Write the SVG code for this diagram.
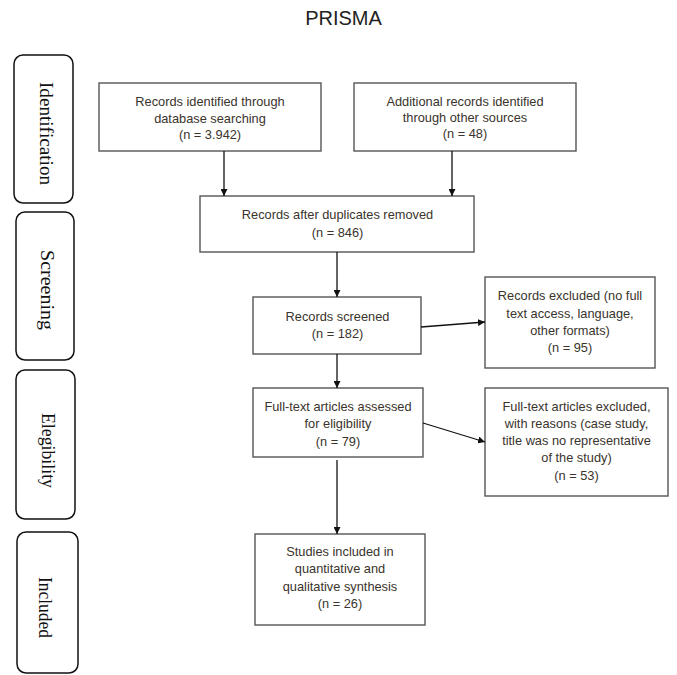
<svg xmlns="http://www.w3.org/2000/svg" width="677" height="675" viewBox="0 0 677 675">
<defs>
<style>
.title{font-family:"Liberation Sans",Arial,sans-serif;font-size:20px;fill:#222;text-anchor:middle}
.side{fill:#fff;stroke:#111;stroke-width:1.5}
.stxt{font-family:"Liberation Serif","Times New Roman",serif;font-size:18.5px;fill:#111;text-anchor:middle}
.box{fill:#fff;stroke:#555;stroke-width:1.4}
.txt{font-family:"Liberation Sans",Arial,sans-serif;font-size:12.8px;fill:#3a342c;text-anchor:middle}
.conn{stroke:#111;stroke-width:1.3;fill:none;marker-end:url(#ah)}
</style>
<marker id="ah" viewBox="0 0 10 10" refX="10" refY="5" markerWidth="7" markerHeight="7" markerUnits="userSpaceOnUse" orient="auto">
<path d="M0,0 L10,5 L0,10 z" fill="#111"/>
</marker>
</defs>
<rect width="677" height="675" fill="#fff"/>
<text class="title" x="343.5" y="25">PRISMA</text>

<g id="side-identification">
<rect class="side" x="14" y="55" width="59" height="148" rx="9"/>
<text class="stxt" transform="translate(40,133.5) rotate(90)" textLength="103" lengthAdjust="spacingAndGlyphs">Identification</text>
</g>
<g id="side-screening">
<rect class="side" x="16" y="212" width="58" height="148" rx="9"/>
<text class="stxt" transform="translate(40.5,290) rotate(90)" textLength="80" lengthAdjust="spacingAndGlyphs">Screening</text>
</g>
<g id="side-eligibility">
<rect class="side" x="16" y="370" width="59" height="149" rx="9"/>
<text class="stxt" transform="translate(42,450.5) rotate(90)" textLength="75" lengthAdjust="spacingAndGlyphs">Elegibility</text>
</g>
<g id="side-included">
<rect class="side" x="17" y="532" width="61" height="141" rx="9"/>
<text class="stxt" transform="translate(39,607.5) rotate(90)" textLength="61" lengthAdjust="spacingAndGlyphs">Included</text>
</g>

<g id="n-database">
<rect class="box" x="99" y="83" width="222" height="68"/>
<text class="txt" x="210" y="106">Records identified through</text>
<text class="txt" x="210" y="122.5">database searching</text>
<text class="txt" x="210" y="139">(n = 3.942)</text>
</g>
<g id="n-other">
<rect class="box" x="354" y="83" width="222" height="68"/>
<text class="txt" x="465" y="106">Additional records identified</text>
<text class="txt" x="465" y="122">through other sources</text>
<text class="txt" x="465" y="137.5">(n = 48)</text>
</g>
<g id="n-duplicates">
<rect class="box" x="200" y="196" width="274" height="56"/>
<text class="txt" x="337.5" y="219">Records after duplicates removed</text>
<text class="txt" x="337.5" y="237">(n = 846)</text>
</g>
<g id="n-screened">
<rect class="box" x="253" y="297" width="168" height="57"/>
<text class="txt" x="337.5" y="321">Records screened</text>
<text class="txt" x="337.5" y="337.5">(n = 182)</text>
</g>
<g id="n-excluded">
<rect class="box" x="485" y="277" width="170" height="91"/>
<text class="txt" x="570" y="300">Records excluded (no full</text>
<text class="txt" x="570" y="318">text access, language,</text>
<text class="txt" x="570" y="335">other formats)</text>
<text class="txt" x="570" y="352">(n = 95)</text>
</g>
<g id="n-fulltext">
<rect class="box" x="253" y="388" width="170" height="69"/>
<text class="txt" x="338" y="411">Full-text articles assessed</text>
<text class="txt" x="338" y="428">for eligibility</text>
<text class="txt" x="338" y="446">(n = 79)</text>
</g>
<g id="n-ftexcluded">
<rect class="box" x="485" y="388" width="183" height="108"/>
<text class="txt" x="576.5" y="411">Full-text articles excluded,</text>
<text class="txt" x="576.5" y="428">with reasons (case study,</text>
<text class="txt" x="576.5" y="445">title was no representative</text>
<text class="txt" x="576.5" y="462">of the study)</text>
<text class="txt" x="576.5" y="480">(n = 53)</text>
</g>
<g id="n-included">
<rect class="box" x="255" y="534" width="170" height="91"/>
<text class="txt" x="340" y="556">Studies included in</text>
<text class="txt" x="340" y="573">quantitative and</text>
<text class="txt" x="340" y="590.5">qualitative synthesis</text>
<text class="txt" x="340" y="607.5">(n = 26)</text>
</g>

<g id="connectors">
<line class="conn" x1="224" y1="151" x2="224" y2="196"/>
<line class="conn" x1="452" y1="151" x2="452" y2="196"/>
<line class="conn" x1="337" y1="252" x2="337" y2="297"/>
<line class="conn" x1="421" y1="327" x2="485" y2="322"/>
<line class="conn" x1="337" y1="354" x2="337" y2="388"/>
<line class="conn" x1="423" y1="423" x2="485" y2="442"/>
<line class="conn" x1="337" y1="460" x2="337" y2="534"/>
</g>
</svg>
